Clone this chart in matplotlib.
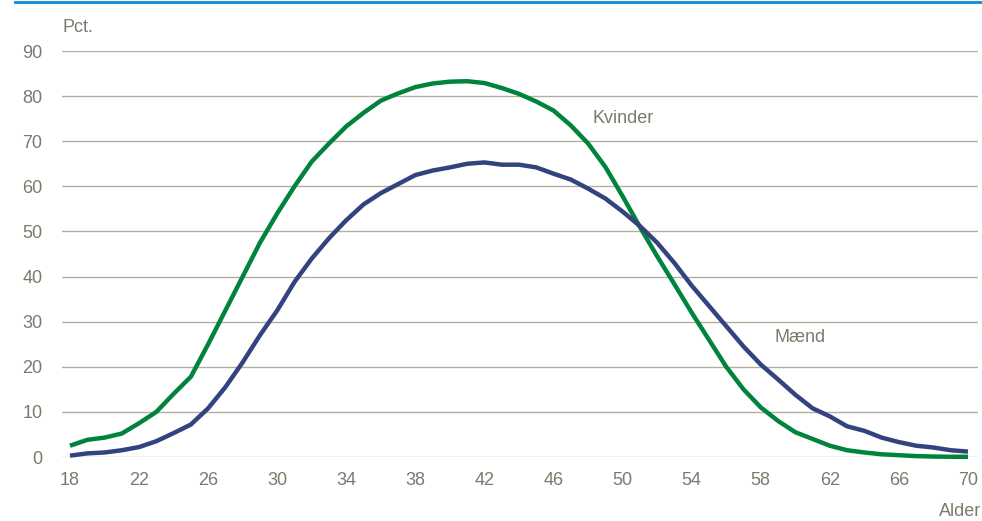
import matplotlib
matplotlib.use("Agg")
import matplotlib.pyplot as plt
from matplotlib import font_manager

ages = list(range(18, 71))
kvinder = [2.5, 3.8, 4.3, 5.2, 7.5, 10.0, 14.0, 17.8, 25.0, 32.5,
           40.0, 47.5, 54.0, 60.0, 65.5, 69.5, 73.3, 76.3, 79.0, 80.6,
           82.0, 82.8, 83.2, 83.3, 82.9, 81.8, 80.5, 78.8, 76.8, 73.5,
           69.5, 64.3, 57.8, 51.0, 44.5, 38.3, 32.0, 26.0, 20.0, 15.0,
           11.0, 8.0, 5.5, 4.0, 2.5, 1.5, 1.0, 0.6, 0.4, 0.2,
           0.1, 0.05, 0.05]
maend = [0.3, 0.8, 1.0, 1.5, 2.2, 3.5, 5.3, 7.2, 10.8, 15.5,
         21.0, 27.0, 32.5, 38.8, 44.0, 48.5, 52.5, 56.0, 58.5, 60.5,
         62.5, 63.5, 64.2, 65.0, 65.3, 64.8, 64.8, 64.2, 62.8, 61.5,
         59.5, 57.3, 54.4, 51.2, 47.5, 43.0, 38.0, 33.5, 29.0, 24.5,
         20.5, 17.2, 13.8, 10.8, 9.0, 6.8, 5.8, 4.3, 3.3, 2.5,
         2.1, 1.5, 1.2]
xticks = list(range(18, 71, 4))
yticks = list(range(0, 91, 10))

names = {f.name for f in font_manager.fontManager.ttflist}
fam = ["Liberation Sans Narrow"] if "Liberation Sans Narrow" in names else ["Liberation Sans"]
plt.rcParams["font.family"] = fam + ["DejaVu Sans"]

grey = "#7d796c"
green = "#00843d"
blue = "#33437f"

fig = plt.figure(figsize=(9.82, 5.21), dpi=100)
ax = fig.add_axes([62/982, 64/521, 916/982, 406/521])
ax.set_xlim(18 - 8/17.27, 70 + 10/17.27)
ax.set_ylim(0, 90)
for s in ax.spines.values():
    s.set_visible(False)
ax.set_yticks(yticks)
ax.set_xticks(xticks)
ax.yaxis.grid(True, color="#b3ae9f", linewidth=1.0)
ax.set_axisbelow(True)
ax.tick_params(length=0, labelsize=13, colors=grey)
ax.tick_params(axis="y", pad=14)
ax.tick_params(axis="x", pad=11)
for lbl in ax.get_yticklabels() + ax.get_xticklabels():
    lbl.set_color(grey)

ax.plot(ages, kvinder, color=green, linewidth=3.2, clip_on=False, solid_capstyle="butt")
ax.plot(ages, maend, color=blue, linewidth=3.2, clip_on=False, solid_capstyle="butt")

fig.text(592/982, 1 - 118/521, "Kvinder", fontsize=13, color=grey, va="center", ha="left")
fig.text(775/982, 1 - 337/521, "Mænd", fontsize=13, color=grey, va="center", ha="left")
fig.text(63/982, 1 - 28/521, "Pct.", fontsize=13, color=grey, va="center", ha="left")
fig.text(981/982, 1 - 512/521, "Alder", fontsize=13, color=grey, va="center", ha="right")

fig.add_artist(plt.Line2D([15/982, 1], [1 - 2/521, 1 - 2/521], color="#0a8ccf", linewidth=2, transform=fig.transFigure))

fig.savefig("out.png", dpi=100)
